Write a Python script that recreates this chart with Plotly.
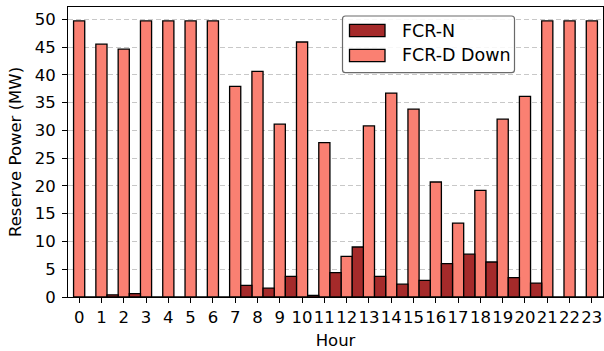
import plotly.graph_objects as go

# Hourly reserve allocation (MW)
hours = list(range(24))
fcr_n = [0, 0.4, 0.6, 0, 0, 0, 0, 2.1, 1.6, 3.7, 0.3, 4.4,
         9.0, 3.7, 2.3, 3.0, 6.0, 7.7, 6.3, 3.5, 2.5, 0, 0, 0]
fcr_d_down = [49.7, 45.5, 44.6, 49.7, 49.7, 49.7, 49.7, 37.9, 40.6, 31.1, 45.9, 27.8,
              7.3, 30.8, 36.7, 33.8, 20.7, 13.3, 19.2, 32.0, 36.1, 49.7, 49.7, 49.7]
series_names = ["FCR-N", "FCR-D Down"]
series_colors = ["#A52A2A", "#FA8072"]
y_ticks = list(range(0, 51, 5))

W, H = 604, 351
M = dict(l=68, r=1, t=7, b=54)
FONT = "DejaVu Sans"

fig = go.Figure()
# FCR-D Down sits on the hour tick, FCR-N just to its right
fig.add_trace(go.Bar(x=hours, y=fcr_d_down, name=series_names[1], width=0.5, offset=-0.25,
                     marker=dict(color=series_colors[1], line=dict(color="black", width=1.3))))
fig.add_trace(go.Bar(x=hours, y=fcr_n, name=series_names[0], width=0.5, offset=0.25,
                     marker=dict(color=series_colors[0], line=dict(color="black", width=1.3))))

# hand-drawn legend box in pixel space
pw = W - M["l"] - M["r"]
ph = H - M["t"] - M["b"]
def px(x):
    return (x - M["l"]) / pw
def py(y):
    return (H - M["b"] - y) / ph

shapes = []
annotations = []
bx0, bx1, by0, by1, rad = 342.5, 514.5, 16.0, 72.7, 3
path = (f"M {px(bx0+rad)} {py(by0)} L {px(bx1-rad)} {py(by0)} "
        f"Q {px(bx1)} {py(by0)} {px(bx1)} {py(by0+rad)} L {px(bx1)} {py(by1-rad)} "
        f"Q {px(bx1)} {py(by1)} {px(bx1-rad)} {py(by1)} L {px(bx0+rad)} {py(by1)} "
        f"Q {px(bx0)} {py(by1)} {px(bx0)} {py(by1-rad)} L {px(bx0)} {py(by0+rad)} "
        f"Q {px(bx0)} {py(by0)} {px(bx0+rad)} {py(by0)} Z")
shapes.append(dict(type="path", xref="paper", yref="paper", path=path,
                   fillcolor="rgba(255,255,255,0.85)", line=dict(color="#6a6a6a", width=1.2),
                   layer="above"))
for i, (name, col) in enumerate(zip(series_names, series_colors)):
    yc = 30.5 + i * 25.0
    shapes.append(dict(type="rect", xref="paper", yref="paper",
                       x0=px(349.5), x1=px(385.0), y0=py(yc - 6.2), y1=py(yc + 6.2),
                       fillcolor=col, line=dict(color="black", width=1.3), layer="above"))
    annotations.append(dict(xref="paper", yref="paper", x=px(400.0), y=py(yc),
                            xanchor="left", yanchor="middle", text=name, showarrow=False,
                            font=dict(family=FONT, size=17.5, color="black")))

fig.update_layout(
    width=W, height=H, margin=M,
    paper_bgcolor="white", plot_bgcolor="white",
    barmode="overlay", showlegend=False,
    font=dict(family=FONT, size=16.5, color="black"),
    shapes=shapes, annotations=annotations,
    xaxis=dict(range=[-0.5, 23.5], tickmode="array", tickvals=hours,
               ticktext=[str(h) for h in hours], tickangle=0, ticks="outside", ticklen=5,
               tickcolor="black", showline=True, linecolor="black", linewidth=1,
               mirror=True, showgrid=False, zeroline=False, automargin=False,
               title=dict(text="Hour", standoff=8, font=dict(size=16.5))),
    yaxis=dict(range=[0, 52.2], tickmode="array", tickvals=y_ticks, ticks="outside",
               ticklen=5, tickcolor="black", showline=True, linecolor="black",
               linewidth=1, mirror=True, showgrid=True, gridcolor="#c8c8c8",
               griddash="5px,3px", gridwidth=1, zeroline=False, automargin=False,
               ticklabelstandoff=3,
               title=dict(text="Reserve Power (MW)", standoff=8, font=dict(size=16.5))),
)

fig.write_html("out.html")
